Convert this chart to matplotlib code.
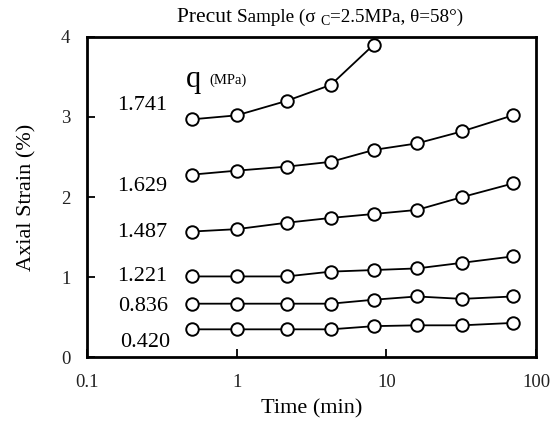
import numpy as np
import matplotlib.pyplot as plt

plt.rcParams['font.family'] = ['Liberation Serif', 'DejaVu Serif']
plt.rcParams['mathtext.fontset'] = 'stix'

# Creep data: time (min) vs axial strain (%) for each deviatoric stress q (MPa)
time_full = [0.5, 1, 2.15, 4.25, 8.3, 16, 32, 70]
time_top = [0.5, 1, 2.15, 4.25, 8.2]

q_labels = ['1.741', '1.629', '1.487', '1.221', '0.836', '0.420']
strain_1741 = [2.97, 3.02, 3.20, 3.40, 3.90]
strain_1629 = [2.28, 2.33, 2.38, 2.44, 2.59, 2.67, 2.82, 3.02]
strain_1487 = [1.57, 1.60, 1.68, 1.74, 1.79, 1.84, 2.00, 2.17]
strain_1221 = [1.01, 1.01, 1.01, 1.07, 1.09, 1.11, 1.18, 1.26]
strain_0836 = [0.67, 0.67, 0.67, 0.67, 0.72, 0.76, 0.73, 0.76]
strain_0420 = [0.35, 0.35, 0.35, 0.35, 0.39, 0.40, 0.40, 0.43]

# label anchor heights (in strain units) for the q values
label_y = [3.14, 2.13, 1.56, 1.01, 0.64, 0.19]
label_x = [0.158, 0.158, 0.158, 0.158, 0.161, 0.165]

fig = plt.figure(figsize=(5.55, 4.28), dpi=100)
ax = fig.add_axes([0.157, 0.165, 0.809, 0.749])

series = [(time_top, strain_1741)] + [(time_full, s) for s in
          (strain_1629, strain_1487, strain_1221, strain_0836, strain_0420)]
for t, s in series:
    ax.plot(t, s, '-', color='black', linewidth=1.3, marker='o', markersize=9,
            markerfacecolor='white', markeredgecolor='black', markeredgewidth=1.4,
            zorder=3, clip_on=False)

ax.set_xscale('log')
ax.set_xlim(0.1, 100)
ax.set_ylim(0, 4)
ax.set_xticks([0.1, 1, 10, 100])
ax.set_xticklabels(['0.1', '1', '10', '100'])
ax.xaxis.set_minor_locator(plt.NullLocator())
ax.set_yticks([0, 1, 2, 3, 4])
ax.set_yticklabels(['0', '1', '2', '3', '4'])
ax.tick_params(axis='both', direction='in', length=6, width=1.3, labelsize=13.5,
               labelcolor='#222222')
ax.tick_params(axis='x', pad=12)
ax.tick_params(axis='y', pad=12)
for sp in ax.spines.values():
    sp.set_linewidth(2.0)

ax.set_xlabel('Time (min)', fontsize=16, labelpad=6)
ax.set_ylabel('Axial Strain (%)', fontsize=16, labelpad=18)

for lab, x, y in zip(q_labels, label_x, label_y):
    ax.text(x, y, lab, fontsize=16, ha='left', va='center')

ax.text(0.46, 3.47, 'q', fontsize=22, ha='left', va='center')
ax.text(0.66, 3.46, '(MPa)', fontsize=10.5, ha='left', va='center')

# Title built from pieces of different sizes
fig.canvas.draw()
renderer = fig.canvas.get_renderer()
pieces = [('Precut ', 15.5, 0), ('Sample (σ ', 13.8, 0), ('C', 10, -3),
          ('=2.5MPa, θ=58°)', 13.8, 0)]
x0 = 177
ybase = 428 - 22
for txt, fs, dy in pieces:
    t = fig.text(x0 / 555, (ybase + dy) / 428, txt, fontsize=fs,
                 ha='left', va='baseline')
    x0 = t.get_window_extent(renderer).x1

fig.savefig('out.png', dpi=100, facecolor='white')
